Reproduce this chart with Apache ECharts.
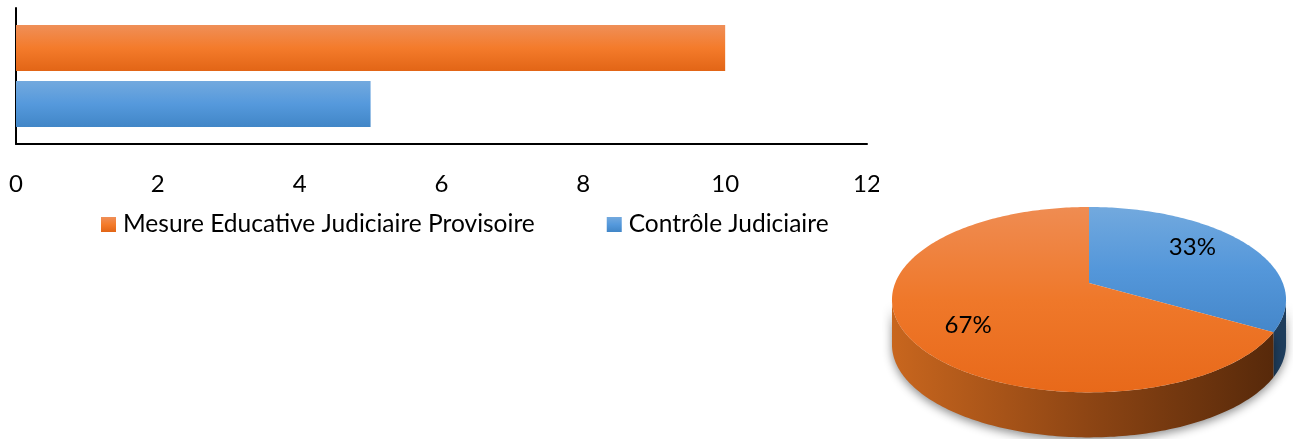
<!DOCTYPE html>
<html>
<head>
<meta charset="utf-8">
<script src="https://cdn.jsdelivr.net/npm/echarts@6/dist/echarts.min.js"></script>
<style>
  html, body { margin: 0; padding: 0; background: #fff; }
  #bars { position: absolute; left: 0; top: 0; width: 879px; height: 439px; }
  #pie { position: absolute; left: 880px; top: 0; width: 413px; height: 439px; }
</style>
</head>
<body>
<div id="bars"></div>
<div id="pie"></div>
<script>
const categories = ['Mesure Educative Judiciaire Provisoire', 'Contrôle Judiciaire'];
const counts = [10, 5];
const axisMin = 0;
const axisMax = 12;
const axisStep = 2;
// pie starts at 12 o'clock with Contrôle, then Mesure
const pieOrder = [1, 0];

const FONT = 'Lato, sans-serif';

const grad = (top, mid, bottom) => ({
    type: 'linear', x: 0, y: 0, x2: 0, y2: 1,
    colorStops: [{ offset: 0, color: top }, { offset: 0.5, color: mid }, { offset: 1, color: bottom }]
});
const barColors = [grad('#ef8f58', '#f47b2b', '#e26516'), grad('#73a9de', '#5599dc', '#4186c7')];

const bars = echarts.init(document.getElementById('bars'));
bars.setOption({
    animation: false,
    backgroundColor: '#fff',
    grid: { left: 16, top: 8, width: 851, height: 136, outerBoundsMode: 'none', containLabel: false },
    legend: {
        left: 96, top: 207,
        itemWidth: 15, itemHeight: 15, itemGap: 72,
        icon: 'rect',
        textStyle: { fontFamily: FONT, fontSize: 24.5, color: '#000', padding: [0, 0, 0, 2] },
        data: categories
    },
    xAxis: {
        type: 'value', min: axisMin, max: axisMax, interval: axisStep,
        splitLine: { show: false },
        axisLine: { show: true, lineStyle: { color: '#000', width: 2 } },
        axisTick: { show: false },
        axisLabel: { color: '#000', fontFamily: FONT, fontSize: 24, margin: 28 }
    },
    yAxis: {
        type: 'category', data: [''], inverse: true,
        axisLine: { show: true, lineStyle: { color: '#000', width: 2 } },
        axisTick: { show: false },
        axisLabel: { show: false }
    },
    series: categories.map((name, i) => ({
        type: 'bar', name: name,
        data: [counts[i]],
        barWidth: 46, barGap: '22%',
        itemStyle: { color: barColors[i] }
    }))
});

// 3D-looking pie drawn on a perspective ellipse
const cx = 209, cy = 283, sx = 193.8, sy = 89.7, persp = 0.18, depth = 45;
const total = counts.reduce((a, b) => a + b, 0);
const pieData = [];
let acc = 0;
pieOrder.forEach(i => {
    pieData.push([counts[i], acc, i]);
    acc += counts[i];
});

function proj(a, r, drop) {
    const u = r * Math.sin(a), v = -r * Math.cos(a);
    const z = 1 - persp * v;
    return [cx + sx * u / z, cy + sy * v / z + drop];
}
function arc(a0, a1, drop) {
    const pts = [];
    const n = Math.max(2, Math.ceil((a1 - a0) / (Math.PI / 180)));
    for (let j = 0; j <= n; j++) pts.push(proj(a0 + (a1 - a0) * j / n, 1, drop));
    return pts;
}
const topColors = [grad('#ef8c52', '#ef782a', '#e8691a'), grad('#72a9de', '#5497da', '#4587ca')];
const sideColors = [
    { type: 'linear', x: 0, y: 0, x2: 1, y2: 0, colorStops: [{ offset: 0, color: '#c8661e' }, { offset: 0.5, color: '#8f4614' }, { offset: 1, color: '#57290a' }] },
    '#1e3d5c'
];
const frontStart = Math.acos(-persp);
const frontEnd = 2 * Math.PI - frontStart;

const pie = echarts.init(document.getElementById('pie'));
pie.setOption({
    animation: false,
    backgroundColor: '#fff',
    series: [{
        type: 'custom',
        coordinateSystem: 'none',
        data: pieData,
        renderItem: function (params, api) {
            const value = api.value(0), start = api.value(1), idx = api.value(2);
            const a0 = start / total * 2 * Math.PI;
            const a1 = (start + value) / total * 2 * Math.PI;
            const children = [];
            const s = Math.max(a0, frontStart), e = Math.min(a1, frontEnd);
            if (e > s) {
                const side = arc(s, e, 0).concat(arc(s, e, depth).reverse());
                children.push({
                    type: 'polygon', z2: 1,
                    shape: { points: side },
                    style: { fill: sideColors[idx], shadowBlur: 10, shadowColor: 'rgba(0,0,0,0.45)', shadowOffsetY: 3 }
                });
            }
            children.push({
                type: 'polygon', z2: 10,
                shape: { points: [proj(0, 0, 0)].concat(arc(a0, a1, 0)) },
                style: { fill: topColors[idx] }
            });
            const mid = (a0 + a1) / 2 - 7 * Math.PI / 180;
            const lp = proj(mid, 0.72, 0);
            children.push({
                type: 'text', z2: 20,
                x: lp[0], y: lp[1],
                style: {
                    text: Math.round(value / total * 100) + '%',
                    fill: '#000', font: '24px ' + FONT,
                    align: 'center', verticalAlign: 'middle'
                }
            });
            return { type: 'group', children: children };
        }
    }]
});

window.addEventListener('resize', () => {
    bars.resize();
    pie.resize();
});
</script>
</body>
</html>
